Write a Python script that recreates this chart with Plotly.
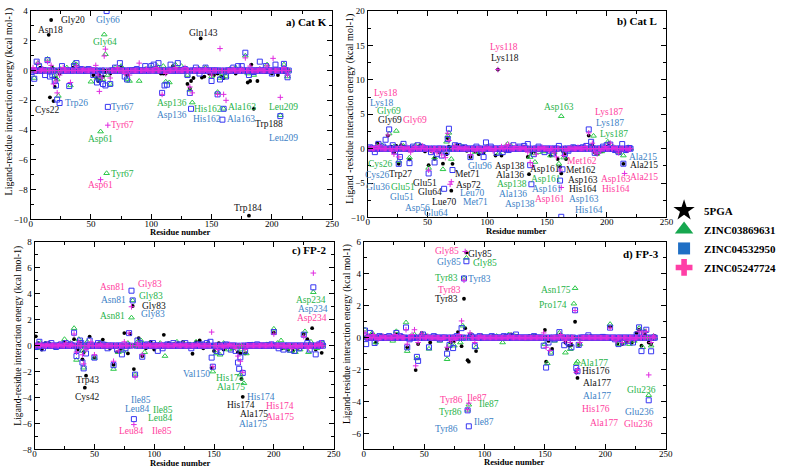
import plotly.graph_objects as go

FONT = "Liberation Serif, Times New Roman, Times, serif"

# ---------------- data (residue -> interaction energy, kcal/mol); residues not listed read ~0 ----------------
# Panel a) Cat K
catk_n = 214
catk_5pga = {2: 0.1, 5: -0.1, 8: 0.2, 12: 0.1, 15: 2.4, 16: -1.8, 17: 3.4, 18: 0.2, 19: -2.05, 20: -1.1, 21: -0.5,
             24: -0.2, 28: 0.1, 35: 0.2, 40: 0.1, 45: -0.1, 52: -0.3, 55: -0.5, 56: -0.7, 57: -0.3, 58: -0.6,
             60: -0.4, 62: -0.1, 66: -0.2, 70: 0.1, 75: 0.2, 80: -0.3, 85: 0.1, 92: -0.1, 100: 0.1, 104: 0.2,
             108: -0.2, 110: -0.2, 112: -0.2, 118: 0.3, 122: 0.1, 126: 0.1, 130: -0.9, 132: -1.2, 133: -0.7,
             135: -0.5, 138: -0.1, 141: 2.16, 142: -0.47, 144: -0.4, 148: -0.2, 150: -0.2, 152: -0.3, 155: -0.2,
             158: -0.4, 160: -0.5, 165: -0.1, 170: -0.2, 175: 0.1, 180: -0.8, 181: -9.75, 182: -0.7, 183: 0.4,
             185: -2.57, 188: -0.7, 195: -0.1, 200: -0.2, 205: -0.3, 210: -0.1, 212: 0.1}
catk_z631 = {3: -0.5, 6: 0.5, 10: 0.1, 14: 0.78, 18: 0.2, 20: -0.3, 22: -0.6, 23: -1.7, 25: 0.1, 30: 0.2, 33: -1.0,
             36: 0.5, 38: 0.4, 45: 0.1, 50: -0.75, 55: -0.5, 57: -0.6, 58: -4.1, 60: -0.6, 61: 2.42, 62: 1.1,
             63: -6.9, 64: -0.3, 66: -0.9, 70: 0.2, 75: 0.3, 80: -0.6, 82: -0.7, 90: -0.7, 95: 0.1, 100: 0.2,
             105: 0.3, 110: 0.3, 112: -0.75, 115: -0.8, 120: 0.4, 125: 0.3, 130: -0.3, 132: -1.3, 134: -2.15,
             140: 0.1, 145: 0.2, 150: -0.4, 155: -1.45, 157: -0.5, 159: -0.2, 160: -2.57, 162: -0.4, 165: 0.1,
             170: 0.2, 178: 1.0, 180: -0.2, 185: -0.3, 190: 0.1, 196: 0.4, 200: -0.1, 207: -3.0, 210: 0.4, 213: -0.4}
catk_z950 = {1: -0.1, 3: -0.55, 5: 0.6, 7: 0.3, 12: -0.3, 14: 0.7, 16: -0.4, 18: -0.3, 20: -0.7, 21: -1.0,
             22: -1.95, 24: -2.18, 26: 0.3, 32: -1.04, 36: 0.3, 38: 0.5, 42: 0.1, 48: 0.1, 52: -0.3, 55: -0.8,
             57: -0.6, 58: -0.2, 60: -0.9, 62: -1.0, 63: 4.0, 64: -2.44, 66: -0.9, 70: 0.2, 74: 0.5, 78: -0.4,
             80: -0.6, 88: 0.1, 95: 0.3, 100: 0.3, 102: 0.4, 106: 0.5, 109: -1.5, 111: -1.0, 113: -0.95, 116: 0.4,
             122: 0.5, 128: 0.1, 130: -0.3, 132: -1.5, 133: -2.57, 137: 0.2, 140: -0.2, 145: 0.2, 150: -0.7,
             155: -1.6, 157: -0.6, 159: -3.3, 160: -2.57, 162: -0.4, 168: 0.2, 172: 0.3, 175: 0.3, 178: 1.2,
             181: -0.3, 185: -0.1, 190: 0.6, 195: 0.3, 200: -0.2, 203: 0.4, 207: -3.06, 210: 0.45, 213: -0.45}
catk_z724 = {2: 0.2, 6: 0.5, 10: 0.1, 14: 0.6, 17: 0.35, 19: -0.9, 21: -0.7, 22: -1.5, 24: -0.3, 27: 0.2,
             33: -0.8, 38: 0.3, 44: 0.1, 50: 0.1, 54: 0.35, 56: -0.3, 57: -1.4, 58: -7.33, 59: -0.5, 61: 0.98,
             62: 1.44, 64: -3.67, 66: -0.5, 72: 0.2, 78: -0.2, 82: -0.3, 90: 0.5, 96: 0.1, 104: 0.2, 109: -1.6,
             112: -0.2, 120: 0.2, 128: 0.2, 132: -1.1, 134: -1.5, 138: 0.1, 145: 0.1, 150: -0.3, 155: -1.6,
             157: 1.48, 160: -1.6, 162: -2.0, 168: 0.1, 175: 0.1, 178: 0.85, 182: 0.3, 190: 0.1, 196: 0.3,
             201: 0.82, 207: -1.8, 210: 0.2, 213: -0.3}

# Panel b) Cat L
catl_n = 220
catl_5pga = {2: 0.1, 5: -0.2, 8: 0.8, 12: 0.2, 17: 1.9, 20: 0.3, 22: -0.5, 24: 0.4, 26: -2.2, 28: 0.5, 30: 0.3,
             35: -1.55, 38: 0.2, 44: 0.5, 48: -0.4, 51: -2.4, 53: -0.3, 56: -1.46, 60: -0.5, 63: -2.18, 66: -0.8,
             67: 1.5, 68: 0.3, 70: -6.1, 71: -2.2, 72: 0.3, 75: 0.6, 80: 0.3, 83: -0.3, 86: -1.2, 90: -0.4,
             93: -0.8, 97: -0.6, 100: 0.2, 104: -0.2, 107: -1.0, 109: 11.5, 112: -1.0, 115: -0.3, 120: -0.1,
             125: 0.1, 130: 0.3, 132: 0.1, 134: -1.2, 135: -3.7, 137: -0.6, 140: -0.4, 145: 0.1, 150: -0.3,
             153: -1.0, 157: -0.6, 159: -1.5, 161: -2.65, 162: -3.6, 163: -0.3, 165: -0.75, 166: -1.5, 170: 0.1,
             175: 0.1, 180: -0.1, 185: 1.9, 188: 0.5, 190: -0.5, 192: -0.8, 196: -0.4, 200: 0.3, 202: 0.8,
             204: -0.2, 208: -0.4, 211: -0.6, 214: -2.2, 217: -0.3, 219: -0.1}
catl_z631 = {3: 0.2, 8: 0.4, 12: 0.5, 18: 2.2, 22: 0.3, 24: 2.57, 26: -1.8, 30: 0.4, 35: -1.3, 40: 0.5, 44: 0.3,
             51: -2.8, 56: -1.3, 60: -0.3, 63: -3.0, 66: 1.0, 67: 1.86, 68: 2.3, 70: -1.5, 72: 0.2, 78: 0.4,
             85: -0.2, 90: -0.5, 96: -0.3, 100: 0.3, 105: -0.2, 110: -0.6, 117: 0.67, 120: 0.4, 125: 0.2, 130: 0.1,
             136: -1.22, 138: -0.7, 140: -1.94, 143: -0.5, 148: -0.4, 153: -1.0, 156: -0.5, 160: -2.18, 162: 4.72,
             164: -1.3, 167: -0.3, 172: 0.2, 180: 0.1, 186: 0.3, 189: 1.86, 192: -0.75, 196: -0.4, 201: 1.0,
             205: 0.3, 210: -0.5, 214: -1.0, 218: 0.2}
catl_z950 = {2: 0.2, 6: -0.5, 9: 0.7, 13: 0.3, 15: 1.3, 18: 2.8, 21: 0.5, 23: -0.4, 26: -2.2, 27: -1.2, 30: 0.7,
             35: -2.1, 38: 0.3, 42: 0.5, 46: 0.2, 51: -3.6, 53: -0.5, 56: -2.0, 58: -0.8, 62: -1.0, 64: -5.83,
             66: -0.5, 67: 1.4, 68: 2.9, 71: -3.1, 73: 0.5, 76: 0.4, 81: 0.2, 86: -1.22, 91: 0.3, 95: -0.4,
             97: -1.22, 99: 0.91, 103: 0.3, 108: -0.6, 113: -0.5, 118: -0.2, 122: 0.5, 127: 0.3, 131: 0.4,
             134: 0.67, 136: -2.4, 137: -5.17, 139: -0.8, 143: 0.3, 148: -0.5, 152: -0.3, 155: -0.7, 160: 0.4,
             161: -4.64, 162: -9.9, 163: -3.0, 165: -0.75, 168: -0.3, 172: 0.2, 176: 0.1, 180: 0.2, 183: 0.4,
             185: 2.8, 187: 1.0, 190: -0.6, 193: -0.3, 197: 0.3, 200: 0.5, 203: 0.6, 207: -0.2, 210: -0.5,
             213: 0.67, 214: -2.18, 216: -0.2, 219: 0.1}
catl_z724 = {3: 0.1, 7: 0.3, 10: 0.5, 17: 2.0, 20: -0.3, 22: -0.8, 26: -1.2, 28: 0.3, 33: 0.2, 36: -0.5, 40: 0.3,
             46: 0.4, 51: -3.12, 54: -0.4, 58: -0.6, 62: -0.9, 65: -1.3, 67: 2.24, 68: 1.2, 69: -5.17, 70: -4.8,
             73: 0.4, 77: 0.2, 82: 0.1, 86: -0.9, 90: -0.3, 96: -0.3, 100: 0.2, 105: -0.3, 109: 11.5, 112: 0.3,
             116: 0.5, 118: 0.6, 124: 0.3, 130: 0.2, 134: -0.5, 136: -2.0, 138: -2.5, 141: -0.8, 146: 0.2,
             152: -0.3, 156: -0.6, 158: -1.2, 161: -3.1, 162: -5.64, 164: -1.0, 166: -0.3, 170: 0.1, 176: 0.2,
             182: 0.3, 185: 2.3, 188: 0.8, 190: -0.5, 192: -0.75, 195: -0.3, 199: 0.3, 203: 0.8, 206: 0.2,
             210: -0.6, 215: -3.6, 218: -0.2}

# Panel c) FP-2
fp2_n = 241
fp2_5pga = {1: 0.72, 3: 0.2, 6: -0.3, 9: 0.2, 12: 0.2, 15: -0.1, 20: 0.1, 25: 0.3, 30: 0.1, 33: 0.5, 36: -0.3,
            38: 0.2, 40: -1.05, 41: -0.5, 42: -3.24, 43: -2.31, 46: 0.7, 50: -0.9, 54: 0.2, 57: 0.47, 60: 0.1,
            63: -0.2, 66: -1.47, 69: -0.5, 72: -0.3, 75: 0.97, 78: -0.6, 80: 0.9, 82: 3.06, 83: -1.8, 85: 0.1,
            87: 0.59, 90: -0.8, 93: -0.2, 97: 0.3, 100: -0.3, 104: -0.1, 108: 0.84, 112: 0.2, 116: 0.1, 120: 0.2,
            124: 0.3, 128: 0.1, 132: -0.62, 135: 0.3, 138: 0.4, 141: -0.2, 145: 0.2, 148: -1.7, 150: -0.4,
            154: 0.2, 158: -0.3, 162: 0.1, 165: -0.22, 168: -0.1, 170: -0.5, 172: -0.6, 173: -2.56, 174: -3.94,
            176: -0.6, 180: 0.1, 185: 0.05, 195: 0.1, 200: 1.0, 203: -0.1, 207: -0.2, 212: -0.3, 216: -0.4,
            220: -0.2, 225: 0.9, 228: 0.5, 230: 0.1, 232: 1.35, 235: -0.3, 238: 0.1, 240: -0.55}
fp2_z631 = {2: -0.2, 5: 0.2, 10: 0.1, 15: -0.1, 20: 0.1, 25: 0.5, 30: 0.2, 33: 1.35, 35: -1.1, 37: 0.5, 40: -0.4,
            41: -1.7, 44: 0.3, 50: -0.95, 55: 0.2, 60: 0.1, 66: -1.8, 70: -0.5, 74: -0.4, 78: 0.2, 81: 2.16,
            82: 3.49, 84: -2.23, 86: 0.3, 89: 0.4, 92: -0.5, 96: 0.2, 101: 0.1, 105: 0.2, 109: -0.8, 113: 0.1,
            119: 0.3, 124: 0.2, 130: 0.1, 135: 0.3, 140: 0.1, 145: 0.1, 149: -2.0, 152: -0.6, 155: -0.7, 158: 0.2,
            162: -0.3, 166: -0.2, 170: -0.1, 172: -2.23, 173: -0.3, 175: -2.9, 177: -0.6, 182: 0.1, 188: 0.05,
            194: 0.1, 200: 1.3, 203: 0.2, 206: 0.4, 210: -0.2, 214: -0.4, 218: -0.5, 222: -0.3, 226: 1.1,
            229: -0.5, 231: 0.3, 233: 4.12, 236: -0.2, 239: 0.1, 241: 0.2}
fp2_z950 = {1: -0.1, 4: 0.3, 7: -0.2, 10: 0.1, 14: 0.2, 18: -0.1, 22: 0.1, 26: 0.2, 30: 0.1, 33: 1.0, 35: -0.8,
            36: -0.3, 38: 0.4, 39: 0.2, 40: -1.3, 41: -1.75, 43: -0.6, 46: 0.4, 50: -0.92, 53: 0.2, 57: 0.1,
            61: -0.2, 66: -1.5, 69: -0.3, 73: -0.67, 76: -0.2, 79: 0.97, 81: 4.24, 82: 3.49, 83: -5.66, 84: -2.23,
            86: 0.4, 88: 0.2, 90: -0.85, 94: 0.1, 99: 0.2, 103: -0.4, 107: -0.2, 111: 0.1, 116: 0.2, 121: 0.1,
            126: 0.2, 131: -0.2, 136: 0.1, 140: 0.1, 144: 0.2, 147: 0.3, 148: -0.92, 149: -1.62, 152: -0.4,
            156: -0.5, 160: 0.1, 164: -0.3, 168: -0.4, 170: -1.3, 171: -1.78, 172: -0.9, 174: -2.1, 176: -0.42,
            180: 0.05, 186: 0.1, 198: 0.1, 200: 1.05, 204: -0.2, 208: -0.3, 213: -0.3, 217: -0.4, 221: -0.2,
            225: 0.85, 228: 0.2, 230: -0.3, 233: 4.5, 235: -0.67, 238: 0.1, 240: 0.2}
fp2_z724 = {2: 0.1, 6: 0.1, 11: 0.1, 16: 0.05, 21: 0.1, 26: 0.2, 31: 0.1, 33: 0.9, 35: -0.5, 37: 0.3, 40: -0.7,
            41: -1.4, 43: -0.3, 47: 0.3, 50: -0.7, 55: 0.1, 66: -1.2, 70: -0.4, 75: 0.3, 79: 0.97, 81: 3.0,
            83: -6.08, 84: -2.4, 86: 0.2, 90: -0.7, 95: 0.1, 106: 0.1, 118: 0.1, 124: 0.1, 136: 0.1, 148: 1.05,
            149: -1.62, 153: -0.3, 158: -0.1, 163: 0.1, 168: -0.2, 170: -0.8, 172: -1.2, 174: -2.05, 176: -0.3,
            190: 0.05, 198: 0.1, 200: 0.9, 210: -0.1, 215: -0.2, 220: -0.1, 225: 0.7, 229: -0.2, 233: 5.6,
            236: 0.1, 239: 0.2}

# Panel d) FP-3
fp3_n = 241
fp3_5pga = {4: 0.1, 7: 0.2, 10: -0.3, 14: 0.1, 18: 0.1, 27: 0.2, 32: 0.1, 36: -0.6, 40: 0.1, 43: -2.03, 45: -0.4,
            48: 0.3, 52: 0.1, 55: -0.3, 60: 0.1, 65: -0.1, 69: -0.7, 72: -0.3, 75: -0.2, 78: 0.35, 81: -0.53,
            83: 2.44, 84: 0.6, 85: 5.34, 86: -1.41, 87: -1.5, 88: 0.2, 93: -0.84, 97: 0.1, 107: 0.1, 117: 0.1,
            122: 0.2, 127: 0.1, 137: 0.1, 142: 0.1, 150: 0.49, 151: -1.5, 153: -0.2, 156: -0.7, 160: 0.1, 163: 0.2,
            167: -0.3, 170: -0.5, 172: -0.45, 175: 1.0, 176: -2.17, 177: -2.52, 178: -0.45, 188: 0.1, 204: 0.7,
            210: -0.4, 214: -0.4, 218: -0.2, 222: -0.3, 226: 0.3, 228: 0.5, 230: -0.5, 233: 0.2, 236: -0.3,
            238: -0.4, 241: 0.1}
fp3_z631 = {1: 0.5, 3: 0.1, 7: 0.3, 10: -0.3, 15: 0.1, 24: -0.2, 27: 0.4, 35: 0.95, 36: -0.84, 39: 0.1, 42: 0.2,
            44: -1.3, 48: 0.25, 52: 0.1, 54: -0.7, 63: -0.2, 69: -1.35, 71: -0.45, 75: -0.5, 78: 0.1, 80: -0.3,
            82: 0.75, 83: 3.75, 85: 5.0, 86: -4.52, 87: -4.2, 89: 0.2, 93: -0.6, 98: 0.1, 110: 0.1, 115: -0.3,
            120: 0.2, 125: 0.1, 135: -0.1, 140: 0.1, 150: -0.4, 152: -1.6, 155: -0.94, 158: -0.2, 162: 0.3,
            167: -0.94, 171: -0.72, 174: 2.13, 175: 3.1, 176: -1.62, 177: -1.5, 179: -0.4, 185: 0.05, 204: 0.85,
            211: -0.4, 215: -0.3, 220: -0.4, 224: -0.2, 228: 0.6, 231: -0.6, 233: 0.4, 236: -3.6, 238: -0.5,
            240: 0.1}
fp3_z950 = {1: 0.45, 2: -0.4, 5: 0.3, 9: -0.33, 13: 0.1, 21: 0.1, 27: 0.3, 30: 0.1, 35: 0.64, 36: -0.6, 38: -0.1,
            44: -1.2, 45: -1.45, 49: 0.2, 54: -0.6, 58: 0.1, 63: -0.1, 69: -1.0, 71: -0.45, 74: -0.65, 77: 0.1,
            81: 0.6, 83: 3.71, 85: 4.79, 86: -4.55, 87: -5.55, 89: 0.1, 92: -0.53, 96: 0.1, 106: 0.1, 116: 0.1,
            121: 0.1, 126: 0.2, 141: 0.1, 149: -0.5, 151: -1.87, 153: -0.3, 155: -0.94, 158: -0.1, 162: 0.35,
            166: -0.47, 169: -0.3, 172: -0.6, 175: 1.72, 176: -1.9, 177: -2.1, 178: -0.45, 186: 0.15, 198: 0.05,
            204: 0.63, 208: -0.1, 211: -0.4, 215: -0.3, 219: -0.2, 223: -0.3, 226: 0.2, 228: 0.65, 230: -0.84,
            232: 0.3, 234: 0.5, 236: -3.92, 238: -0.85}
fp3_z724 = {1: 0.3, 4: 0.1, 8: 0.2, 12: -0.1, 16: 0.1, 26: 0.2, 30: 0.1, 35: 0.5, 36: -0.4, 40: 0.2, 42: 0.5,
            43: -1.76, 45: -0.3, 48: 0.25, 53: 0.1, 64: -0.1, 69: -0.6, 72: -0.2, 76: -0.1, 79: 0.2, 81: 1.05,
            83: 3.6, 84: 5.4, 86: -4.5, 87: -4.1, 88: 0.3, 92: -0.3, 97: 0.1, 121: 0.1, 149: 0.3, 151: -0.6,
            154: -0.8, 163: 0.2, 167: -0.2, 171: -0.3, 175: 1.7, 176: -2.17, 177: -2.0, 179: -0.3, 204: 0.6,
            209: -0.2, 214: -0.3, 219: -0.2, 224: -0.1, 228: 0.4, 231: 0.3, 234: 0.4, 236: -2.33, 238: -0.3,
            240: 0.1}

# residue labels: (text, x, y, colour key)
labels_a = [("Gly20", 34.8, 3.41, "k"), ("Asn18", 16.4, 2.75, "k"), ("Gly66", 64.1, 3.41, "b"),
            ("Gly64", 61.6, 1.94, "g"), ("Gln143", 143, 2.53, "k"), ("Cys22", 14.3, -2.66, "k"),
            ("Trp26", 38.4, -2.18, "b"), ("Tyr67", 75.9, -2.44, "b"), ("Tyr67", 75.9, -3.67, "m"),
            ("Asp61", 58.1, -4.59, "g"), ("Tyr67", 75.9, -6.98, "g"), ("Asp61", 58.1, -7.66, "m"),
            ("Asp136", 117.5, -2.18, "g"), ("Asp136", 117.5, -3.01, "b"), ("His162", 147.1, -2.57, "g"),
            ("His162", 146.3, -3.23, "b"), ("Ala163", 175.3, -2.46, "g"), ("Ala163", 174.5, -3.23, "b"),
            ("Trp188", 197.8, -3.61, "k"), ("Leu209", 209.3, -2.46, "g"), ("Leu209", 209.3, -4.55, "b"),
            ("Trp184", 180, -9.24, "k")]
labels_b = [("Lys118", 114.3, 14.77, "m"), ("Lys118", 115.1, 13.12, "k"), ("Asp163", 159.8, 6.04, "g"),
            ("Lys18", 15.2, 8.13, "m"), ("Lys18", 11.6, 6.71, "b"), ("Gly69", 17.9, 5.43, "g"),
            ("Gly69", 18.8, 4.14, "k"), ("Gly69", 40, 4.14, "m"), ("Asn67", -4.1, 3.14, "g"),
            ("Gly24", -2.8, 1.86, "g"), ("Cys26", 11, -2.27, "g"), ("Cys26", 8.3, -3.83, "b"),
            ("Trp27", 27.5, -3.65, "k"), ("Glu36", 8.3, -5.6, "b"), ("Glu51", 29.8, -5.6, "g"),
            ("Glu51", 28.9, -7.02, "b"), ("Glu51", 48.2, -5.03, "k"), ("Glu64", 51.8, -6.31, "k"),
            ("Lue70", 63.9, -7.73, "k"), ("Asp56", 41.3, -8.68, "b"), ("Glu64", 57, -9.3, "b"),
            ("Met71", 83.2, -3.74, "k"), ("Asp72", 84, -5.26, "k"), ("Leu70", 87.6, -6.45, "b"),
            ("Met71", 90.3, -7.73, "b"), ("Glu96", 94.2, -2.51, "b"), ("Asp138", 119, -2.51, "k"),
            ("Ala136", 119, -3.83, "k"), ("Asp138", 120.4, -5.17, "g"), ("Ala136", 121.7, -6.59, "b"),
            ("Asp138", 127.3, -8.02, "b"), ("Asp161", 148.8, -2.98, "k"), ("Asp161", 149.3, -4.4, "g"),
            ("Asp161", 150.1, -5.83, "b"), ("Asp161", 152.9, -7.25, "m"), ("Met162", 179.1, -1.84, "m"),
            ("Met162", 178.5, -3.12, "k"), ("Asp163", 180.4, -4.54, "k"), ("His164", 180.4, -5.83, "k"),
            ("Asp163", 181.3, -7.25, "b"), ("His164", 185.1, -8.92, "b"), ("Asp163", 208, -4.46, "m"),
            ("His164", 208, -5.88, "m"), ("Lys187", 201.7, 5.28, "m"), ("Lys187", 202.5, 3.76, "b"),
            ("Lys187", 206, 2.1, "g"), ("Ala215", 230, -1.22, "b"), ("Ala215", 231.4, -2.41, "k"),
            ("Ala215", 231.4, -4.07, "m")]
labels_c = [("Asn81", 65.1, 4.52, "m"), ("Gly83", 96.7, 4.77, "m"), ("Asn81", 65.9, 3.56, "b"),
            ("Gly83", 97.3, 3.82, "g"), ("Gly83", 99.4, 3.06, "k"), ("Asn81", 65.1, 2.26, "g"),
            ("Gly83", 98.9, 2.46, "b"), ("Trp43", 43.9, -2.66, "k"), ("Cys42", 43.9, -3.92, "k"),
            ("Ile85", 89.3, -4.22, "b"), ("Leu84", 85.7, -4.88, "b"), ("Ile85", 107.2, -4.93, "g"),
            ("Leu84", 105, -5.61, "g"), ("Leu84", 81, -6.57, "m"), ("Ile85", 106.9, -6.61, "m"),
            ("Val150", 135.2, -2.2, "b"), ("His174", 163.2, -2.48, "g"), ("Ala175", 164, -3.16, "g"),
            ("His174", 189.3, -3.92, "b"), ("His174", 172.8, -4.55, "k"), ("Ala175", 183.3, -5.25, "k"),
            ("Ala175", 182.7, -6.01, "b"), ("His174", 205.3, -4.67, "m"), ("Ala175", 205.3, -5.48, "m"),
            ("Asp234", 231.3, 3.56, "g"), ("Asp234", 232.7, 2.81, "b"), ("Asp234", 231.9, 2.13, "m")]
labels_d = [("Gly85", 68.9, 5.4, "m"), ("Gly85", 96.2, 5.26, "k"), ("Gly85", 70.8, 4.73, "b"),
            ("Gly85", 100.3, 4.65, "g"), ("Tyr83", 68.9, 3.71, "g"), ("Tyr83", 96.2, 3.67, "b"),
            ("Tyr83", 70.8, 3.01, "m"), ("Tyr83", 68.9, 2.4, "k"), ("Asn175", 159, 3.01, "g"),
            ("Pro174", 156.3, 2.03, "g"), ("Tyr86", 73, -3.91, "m"), ("Ile87", 93.4, -3.75, "m"),
            ("Ile87", 103.6, -4.18, "g"), ("Tyr86", 71.6, -4.63, "g"), ("Tyr86", 68.9, -5.69, "b"),
            ("Ile87", 99.4, -5.28, "b"), ("Ala177", 191, -1.56, "g"), ("His176", 192.3, -2.11, "k"),
            ("Ala177", 193.2, -2.83, "k"), ("Ala177", 193.2, -3.64, "b"), ("His176", 192.4, -4.48, "m"),
            ("Ala177", 198.6, -5.34, "m"), ("Glu236", 230, -3.26, "g"), ("Glu236", 228.7, -4.63, "b"),
            ("Glu236", 227.9, -5.41, "m")]

series_names = ["5PGA", "ZINC03869631", "ZINC04532950", "ZINC05247724"]
panel_titles = ["a) Cat K", "b) Cat L", "c) FP-2", "d) FP-3"]
x_title = "Residue number"
y_titles = ["Ligand-residue interaction energy (kcal mol-1)", "Ligand -residue interaction energy (kcal mol-1)",
            "Ligand-residue interaction energy (kcal mol-1)", "Ligand-residue interaction energy (kcal mol-1)"]

# ---------------- styling ----------------
marker_styles = [
    dict(symbol="circle", size=3.8, color="black"),
    dict(symbol="triangle-up-open", size=5, color="#2ec84a", line=dict(width=1)),
    dict(symbol="square-open", size=5, color="#3535f2", line=dict(width=1)),
    dict(symbol="cross-thin", size=4, color="#e02ce0", line=dict(width=1, color="#e02ce0")),
]
label_colors = {"k": "#111111", "g": "#27b34a", "b": "#3c7fc6", "m": "#ff3d9e"}
legend_markers = [
    dict(symbol="star", size=16, color="black"),
    dict(symbol="triangle-up", size=16, color="#17a74f"),
    dict(symbol="square", size=12, color="#1f6fc5"),
    dict(symbol="cross", size=14, color="#ff3fa6"),
]

panels = [
    dict(n=catk_n, data=[catk_5pga, catk_z631, catk_z950, catk_z724], labels=labels_a,
         xd=[0.0368, 0.4244], yd=[0.540, 0.987], yr=[-10, 4], dt=2, mdt=1, tx=247, ty=3.26,
         ytx=0.0095, yty=0.794, yts=10, xtx=0.230, xty=0.512),
    dict(n=catl_n, data=[catl_5pga, catl_z631, catl_z950, catl_z724], labels=labels_b,
         xd=[0.470, 0.854], yd=[0.544, 0.987], yr=[-10, 20], dt=5, mdt=2.5, tx=244, ty=18.5,
         ytx=0.447, yty=0.777, yts=10, xtx=0.661, xty=0.516),
    dict(n=fp2_n, data=[fp2_5pga, fp2_z631, fp2_z950, fp2_z724], labels=labels_c,
         xd=[0.0419, 0.4263], yd=[0.0462, 0.4916], yr=[-8, 8], dt=2, mdt=1, tx=245, ty=7.3,
         ytx=0.0203, yty=0.290, yts=9.6, xtx=0.230, xty=0.017),
    dict(n=fp3_n, data=[fp3_5pga, fp3_z631, fp3_z950, fp3_z724], labels=labels_d,
         xd=[0.465, 0.853], yd=[0.0462, 0.4916], yr=[-7, 6], dt=2, mdt=1, tx=246.5, ty=5.2,
         ytx=0.4435, yty=0.294, yts=9.6, xtx=0.659, xty=0.019),
]

fig = go.Figure()
annotations = []
layout_axes = {}
tickfont = dict(family=FONT, size=9, color="black")

for i, p in enumerate(panels):
    k = "" if i == 0 else str(i + 1)
    xref, yref = "x" + k, "y" + k
    residues = list(range(1, p["n"] + 1))
    for s, d in enumerate(p["data"]):
        fig.add_trace(go.Scatter(
            x=residues, y=[d.get(r, 0.0) for r in residues], mode="markers",
            marker=marker_styles[s], showlegend=False, xaxis=xref, yaxis=yref, hoverinfo="skip"))
    common = dict(ticks="inside", ticklen=5, tickwidth=1, tickcolor="black", mirror="ticks",
                  showline=True, linecolor="black", linewidth=1, showgrid=False, zeroline=False,
                  tickfont=tickfont)
    layout_axes["xaxis" + k] = dict(domain=p["xd"], range=[0, 250], dtick=50, tick0=0, anchor=yref,
                                    ticklabelstandoff=-4,
                                    minor=dict(dtick=25, ticks="inside", ticklen=3, tickcolor="black"),
                                    **common)
    layout_axes["yaxis" + k] = dict(domain=p["yd"], range=p["yr"], dtick=p["dt"], tick0=0, anchor=xref,
                                    minor=dict(dtick=p["mdt"], ticks="inside", ticklen=3, tickcolor="black"),
                                    **common)
    for text, x, y, c in p["labels"]:
        annotations.append(dict(text=text, x=x, y=y, xref=xref, yref=yref, showarrow=False,
                                xanchor="center", yanchor="middle",
                                font=dict(family=FONT, size=9.5, color=label_colors[c])))
    annotations.append(dict(text=panel_titles[i], x=p["tx"], y=p["ty"], xref=xref, yref=yref,
                            showarrow=False, xanchor="right", yanchor="middle",
                            font=dict(family=FONT, size=11, color="black", weight="bold")))
    annotations.append(dict(text=y_titles[i], x=p["ytx"], y=p["yty"], xref="paper", yref="paper",
                            textangle=-90, showarrow=False, xanchor="center", yanchor="middle",
                            font=dict(family=FONT, size=p["yts"], color="black")))
    annotations.append(dict(text=x_title, x=p["xtx"], y=p["xty"], xref="paper", yref="paper",
                            showarrow=False, xanchor="center", yanchor="middle",
                            font=dict(family=FONT, size=8.6, color="black", weight="bold")))

for s, name in enumerate(series_names):
    fig.add_trace(go.Scatter(x=[None], y=[None], mode="markers", marker=legend_markers[s],
                             name=name, xaxis="x", yaxis="y"))

fig.update_layout(
    width=787, height=476, margin=dict(l=0, r=0, t=0, b=0),
    paper_bgcolor="white", plot_bgcolor="white",
    font=dict(family=FONT, color="black"),
    annotations=annotations,
    legend=dict(x=0.851, y=0.498, xanchor="left", yanchor="middle", bgcolor="rgba(0,0,0,0)",
                font=dict(family=FONT, size=11, color="black", weight="bold"),
                itemsizing="trace", tracegroupgap=0),
    **layout_axes,
)

fig.write_html("out.html", config={"displayModeBar": False},
               post_script="document.body.style.margin='0';")
